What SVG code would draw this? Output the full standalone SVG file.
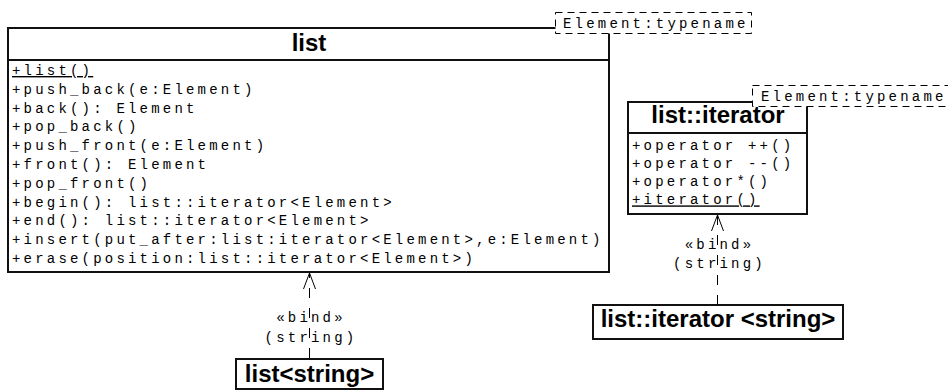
<svg xmlns="http://www.w3.org/2000/svg" width="948" height="390" viewBox="0 0 948 390">
<style>
.box{fill:#fff;stroke:#111;stroke-width:2}
.sep{stroke:#111;stroke-width:2}
.param{fill:#fff;stroke:#000;stroke-width:1;stroke-dasharray:7 5}
.mono{font-family:"Liberation Mono","Courier New",monospace;font-size:14px;letter-spacing:3.2px;fill:#000}
.mid{text-anchor:middle}
.ul{text-decoration:underline}
.title{font-family:"Liberation Sans",Arial,Helvetica,sans-serif;font-weight:bold;font-size:24px;fill:#000}
.conn{stroke:#000;stroke-width:1;stroke-dasharray:10 10;fill:none}
</style>
<defs>
<marker id="open" markerUnits="userSpaceOnUse" orient="auto" overflow="visible" refX="0" refY="0" markerWidth="20" markerHeight="20">
<path d="M-16,-6 L0,0 L-16,6" fill="none" stroke="#000" stroke-width="1"/>
</marker>
</defs>
<rect width="948" height="390" fill="#fff"/>

<g id="list">
<rect class="box" x="8" y="28" width="601" height="244"/>
<line class="sep" x1="8" y1="60" x2="609" y2="60"/>
<text class="title mid" x="309" y="51">list</text>
<text class="mono ul" x="12" y="75">+list()</text>
<text class="mono" x="12" y="93.8">+push_back(e:Element)</text>
<text class="mono" x="12" y="112.6">+back(): Element</text>
<text class="mono" x="12" y="131.4">+pop_back()</text>
<text class="mono" x="12" y="150.2">+push_front(e:Element)</text>
<text class="mono" x="12" y="169">+front(): Element</text>
<text class="mono" x="12" y="187.8">+pop_front()</text>
<text class="mono" x="12" y="206.6">+begin(): list::iterator&lt;Element&gt;</text>
<text class="mono" x="12" y="225.4">+end(): list::iterator&lt;Element&gt;</text>
<text class="mono" x="12" y="244.2">+insert(put_after:list:iterator&lt;Element&gt;,e:Element)</text>
<text class="mono" x="12" y="263">+erase(position:list::iterator&lt;Element&gt;)</text>
</g>

<g id="list-param">
<rect class="param" x="555.5" y="12.5" width="196" height="21"/>
<text class="mono" x="563" y="27.5">Element:typename</text>
</g>

<g id="list-iterator">
<rect class="box" x="628" y="102" width="179" height="112"/>
<line class="sep" x1="628" y1="133" x2="807" y2="133"/>
<text class="title mid" x="718" y="123">list::iterator</text>
<text class="mono" x="632" y="149.5">+operator ++()</text>
<text class="mono" x="632" y="167.8">+operator --()</text>
<text class="mono" x="632" y="186.1">+operator*()</text>
<text class="mono ul" x="632" y="204.4">+iterator()</text>
</g>

<g id="iterator-param">
<rect class="param" x="752.5" y="85.5" width="200" height="21"/>
<text class="mono" x="761" y="100.5">Element:typename</text>
</g>

<g id="list-string">
<rect class="box" x="236" y="359" width="147" height="30"/>
<text class="title mid" x="309.5" y="382">list&lt;string&gt;</text>
</g>

<g id="iterator-string">
<rect class="box" x="593" y="305" width="250" height="34"/>
<text class="title mid" x="718" y="327">list::iterator &lt;string&gt;</text>
</g>

<g id="connectors">
<line class="conn" x1="309.5" y1="358" x2="309.5" y2="273" marker-end="url(#open)"/>
<text class="mono mid" x="311" y="321.5">«bind»</text>
<text class="mono mid" x="311" y="341.5">(string)</text>
<line class="conn" x1="717.5" y1="305" x2="717.5" y2="215" marker-end="url(#open)"/>
<text class="mono mid" x="719.5" y="248.5">«bind»</text>
<text class="mono mid" x="719.5" y="267.5">(string)</text>
</g>
</svg>
